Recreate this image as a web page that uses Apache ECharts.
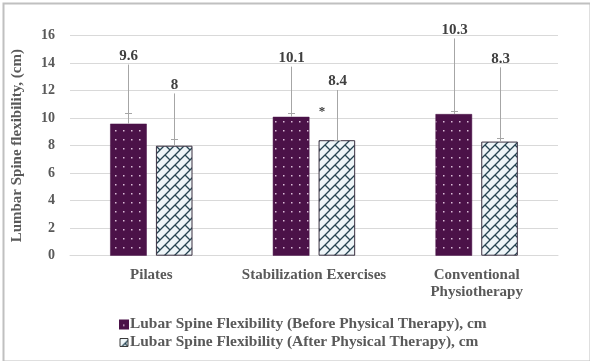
<!DOCTYPE html>
<html>
<head>
<meta charset="utf-8">
<script src="https://cdn.jsdelivr.net/npm/echarts@6/dist/echarts.min.js"></script>
<style>html,body{margin:0;padding:0;background:#fff;}#c{width:590px;height:361px;}</style>
</head>
<body>
<div id="c"></div>
<script>
const categories = ['Pilates', 'Stabilization Exercises', 'Conventional\nPhysiotherapy'];
const beforeVals = [9.6, 10.1, 10.3];
const afterVals = [8, 8.4, 8.3];
const beforeCaps = [10.4, 10.4, 10.5];
const afterCaps = [8.5, 8.45, 8.55];
const beforeLabelAt = [13.9, 13.75, 15.8];
const afterLabelAt = [11.8, 12.05, 13.7];
const starCat = 1;
const starVal = 10.6;
const yTicks = [0, 2, 4, 6, 8, 10, 12, 14, 16];

const serif = '"Liberation Serif", "DejaVu Serif", serif';

function dotPattern() {
  const c = document.createElement('canvas');
  c.width = 8; c.height = 9;
  const g = c.getContext('2d');
  g.fillStyle = '#4B1248';
  g.fillRect(0, 0, 8, 9);
  g.fillStyle = '#D9BCD6';
  g.fillRect(3, 4, 1.5, 1.5);
  return c;
}
function brickPattern() {
  const s = 10;
  const c = document.createElement('canvas');
  c.width = s; c.height = s;
  const g = c.getContext('2d');
  g.fillStyle = '#EEF5F8';
  g.fillRect(0, 0, s, s);
  g.strokeStyle = '#264452';
  g.lineWidth = 1.3;
  g.beginPath();
  g.moveTo(-1, s + 1); g.lineTo(s + 1, -1);
  g.moveTo(s / 2, s / 2); g.lineTo(s, s);
  g.moveTo(-1, 1); g.lineTo(1, -1);
  g.moveTo(s - 1, s + 1); g.lineTo(s + 1, s - 1);
  g.stroke();
  return c;
}

const chart = echarts.init(document.getElementById('c'), null, {renderer: 'canvas'});

function errSeries(vals, caps, tops, sign, axisName) {
  return {
    type: 'custom',
    name: axisName,
    z: 5,
    silent: true,
    legendHoverLink: false,
    data: vals.map((v, i) => [i, v, caps[i], tops[i]]),
    renderItem: function (params, api) {
      const i = api.value(0);
      const bw = api.size([1, 0])[0];
      const off = sign * bw * 0.140625;
      const p0 = api.coord([i, api.value(1)]);
      const pc = api.coord([i, api.value(2)]);
      const pt = api.coord([i, api.value(3)]);
      const x = Math.round(p0[0] + off) + 0.5;
      return {
        type: 'group',
        children: [
          {type: 'line', shape: {x1: x, y1: p0[1], x2: x, y2: pt[1]}, style: {stroke: '#A6A6A6', lineWidth: 1}},
          {type: 'line', shape: {x1: x - 3.5, y1: Math.round(pc[1]) + 0.5, x2: x + 3.5, y2: Math.round(pc[1]) + 0.5}, style: {stroke: '#A6A6A6', lineWidth: 1}},
          {type: 'text', x: x, y: pt[1] - 1, style: {text: String(api.value(1)), textAlign: 'center', textVerticalAlign: 'bottom', font: 'bold 15px ' + serif, fill: '#404040'}}
        ]
      };
    }
  };
}

const option = {
  backgroundColor: '#ffffff',
  animation: false,
  graphic: [{
    type: 'rect', left: 1, top: 1, shape: {width: 587, height: 358},
    style: {fill: 'none', stroke: '#C0C0C0', lineWidth: 2}, z: 100
  }],
  grid: {left: 70, right: 32, top: 35.7, bottom: 105.3, containLabel: false},
  legend: {
    orient: 'vertical',
    left: 114,
    top: 312,
    itemWidth: 8,
    itemHeight: 8,
    itemGap: 3,
    icon: 'rect',
    data: [
      {name: 'Lubar Spine Flexibility (Before Physical Therapy), cm'},
      {name: 'Lubar Spine Flexibility (After Physical Therapy), cm', itemStyle: {borderColor: '#3a3a3a', borderWidth: 1}}
    ],
    textStyle: {fontFamily: serif, fontWeight: 'bold', fontSize: 15.4, color: '#595959', padding: [0, 0, 0, -3]}
  },
  xAxis: {
    type: 'category',
    data: categories,
    axisLine: {show: true, lineStyle: {color: '#D9D9D9'}},
    axisTick: {show: false},
    axisLabel: {fontFamily: serif, fontWeight: 'bold', fontSize: 15, color: '#595959', margin: 11, lineHeight: 17, interval: 0}
  },
  yAxis: {
    type: 'value',
    min: 0, max: 16, interval: 2,
    name: 'Lumbar Spine flexibility, (cm)',
    nameLocation: 'middle',
    nameGap: 45,
    nameTextStyle: {fontFamily: serif, fontWeight: 'bold', fontSize: 15, color: '#595959'},
    axisLine: {show: false},
    axisTick: {show: false},
    splitLine: {lineStyle: {color: '#D9D9D9', width: 1}},
    axisLabel: {
      fontFamily: serif, fontWeight: 'bold', fontSize: 14, color: '#595959', margin: 15,
      formatter: v => (yTicks.indexOf(v) >= 0 ? String(v) : '')
    }
  },
  series: [
    {
      name: 'Lubar Spine Flexibility (Before Physical Therapy), cm',
      type: 'bar',
      data: beforeVals,
      barWidth: '22.5%',
      barGap: '25%',
      itemStyle: {color: {image: dotPattern(), repeat: 'repeat'}, borderColor: '#4B1248', borderWidth: 0.5}
    },
    {
      name: 'Lubar Spine Flexibility (After Physical Therapy), cm',
      type: 'bar',
      data: afterVals,
      barWidth: '22.5%',
      barGap: '25%',
      itemStyle: {color: {image: brickPattern(), repeat: 'repeat'}, borderColor: '#3a3040', borderWidth: 1}
    },
    errSeries(beforeVals, beforeCaps, beforeLabelAt, -1, 'errB'),
    errSeries(afterVals, afterCaps, afterLabelAt, 1, 'errA'),
    {
      type: 'scatter',
      name: 'star',
      symbolSize: 0,
      silent: true,
      z: 6,
      data: [[starCat, starVal]],
      label: {show: true, position: 'inside', offset: [8, 2], formatter: '*', fontFamily: serif, fontWeight: 'bold', fontSize: 13, color: '#000'}
    }
  ]
};
chart.setOption(option);
</script>
</body>
</html>
